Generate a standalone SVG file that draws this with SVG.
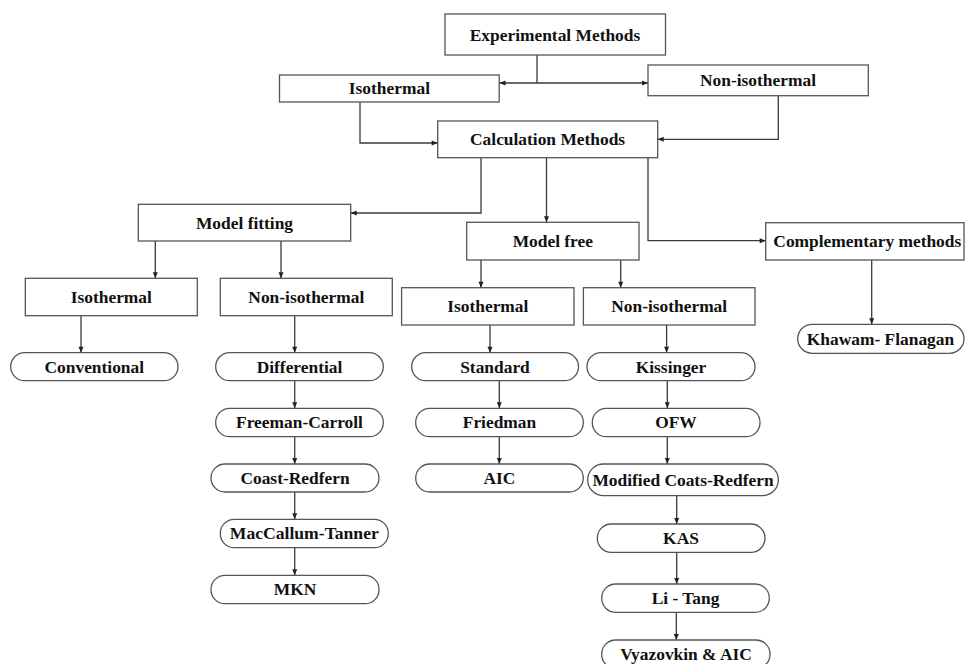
<svg xmlns="http://www.w3.org/2000/svg" width="965" height="664" viewBox="0 0 965 664">
<defs>
<style>
.b{fill:#fff;stroke:#555;stroke-width:1.3}
.t{font-family:"Liberation Serif","Times New Roman",serif;font-weight:bold;font-size:17.4px;fill:#111;text-anchor:middle}
.c{fill:none;stroke:#3a3a3a;stroke-width:1.3;marker-end:url(#ah)}
.n{fill:none;stroke:#3a3a3a;stroke-width:1.3}
</style>
<marker id="ah" markerUnits="userSpaceOnUse" markerWidth="8" markerHeight="8" viewBox="0 0 8 8" refX="7" refY="4" orient="auto">
<path d="M1,1.5 L7,4 L1,6.5 Z" fill="#222"/>
</marker>
</defs>
<rect width="965" height="664" fill="#fff"/>
<g id="connectors">
<path class="n" d="M537,55 V83"/>
<path class="c" d="M537,83 H499.5"/>
<path class="c" d="M537,83 H648"/>
<path class="c" d="M360,102 V143 H437.7"/>
<path class="c" d="M778.3,95.7 V139.3 H657.7"/>
<path class="c" d="M481,157.7 V213 H350.7"/>
<path class="c" d="M546.5,157.7 V222.3"/>
<path class="c" d="M648,157.7 V240.7 H765.7"/>
<path class="c" d="M155.3,241 V278.3"/>
<path class="c" d="M281,241 V278.3"/>
<path class="c" d="M81,315.7 V352.7"/>
<path class="c" d="M294.7,315.7 V352.7"/>
<path class="c" d="M294.7,380.7 V408.3"/>
<path class="c" d="M294.7,436.7 V464"/>
<path class="c" d="M294.7,492 V519.3"/>
<path class="c" d="M294.7,547.7 V575.3"/>
<path class="c" d="M481,260 V287.7"/>
<path class="c" d="M620.7,260 V287.7"/>
<path class="c" d="M490,325 V352.7"/>
<path class="c" d="M499.3,380.7 V408.3"/>
<path class="c" d="M499.3,436.7 V464"/>
<path class="c" d="M666.6,325 V352.7"/>
<path class="c" d="M667.3,380.7 V408.3"/>
<path class="c" d="M667.3,436.7 V464"/>
<path class="c" d="M676.7,495.7 V524"/>
<path class="c" d="M676.7,552.3 V584"/>
<path class="c" d="M676.3,612.3 V640"/>
<path class="c" d="M871.7,260 V324.3"/>
</g>
<g id="experimental"><rect class="b" x="445" y="14" width="220.5" height="41"/><text class="t" x="555" y="40.5">Experimental Methods</text></g>
<g id="isothermal-top"><rect class="b" x="279.5" y="75" width="219.7" height="27"/><text class="t" x="389.4" y="94.3">Isothermal</text></g>
<g id="nonisothermal-top"><rect class="b" x="648" y="65" width="220.3" height="30.7" /><text class="t" x="758" y="86.2">Non-isothermal</text></g>
<g id="calculation"><rect class="b" x="437.7" y="121" width="220" height="36.7"/><text class="t" x="547.6" y="145">Calculation Methods</text></g>
<g id="model-fitting"><rect class="b" x="138.3" y="204.3" width="212.4" height="36.7"/><text class="t" x="244.5" y="228.5">Model fitting</text></g>
<g id="model-free"><rect class="b" x="466.7" y="222.3" width="172.3" height="37.7"/><text class="t" x="552.8" y="247">Model free</text></g>
<g id="complementary"><rect class="b" x="765.7" y="222.7" width="198.3" height="37.3"/><text class="t" x="867.3" y="247">Complementary methods</text></g>
<g id="iso-fitting"><rect class="b" x="25.3" y="278.3" width="172" height="37.4"/><text class="t" x="111.3" y="302.8">Isothermal</text></g>
<g id="noniso-fitting"><rect class="b" x="220.3" y="278.3" width="172" height="37.4"/><text class="t" x="306.3" y="302.8">Non-isothermal</text></g>
<g id="iso-free"><rect class="b" x="401.6" y="287.7" width="172.4" height="37.3"/><text class="t" x="487.8" y="312.2">Isothermal</text></g>
<g id="noniso-free"><rect class="b" x="583.4" y="287.7" width="171.6" height="37.3"/><text class="t" x="669.2" y="312.2">Non-isothermal</text></g>
<g id="conventional"><rect class="b" x="10.7" y="352.7" width="167.3" height="28" rx="14"/><text class="t" x="94.3" y="372.5">Conventional</text></g>
<g id="differential"><rect class="b" x="215.7" y="352.7" width="167.6" height="28" rx="14"/><text class="t" x="299.5" y="372.5">Differential</text></g>
<g id="freeman-carroll"><rect class="b" x="215.7" y="408.3" width="167.6" height="28.4" rx="14"/><text class="t" x="299.5" y="428.3">Freeman-Carroll</text></g>
<g id="coast-redfern"><rect class="b" x="211" y="464" width="168" height="28" rx="14"/><text class="t" x="295" y="483.8">Coast-Redfern</text></g>
<g id="maccallum-tanner"><rect class="b" x="220.3" y="519.3" width="168" height="28.4" rx="14"/><text class="t" x="304.3" y="539.3" textLength="149" lengthAdjust="spacingAndGlyphs">MacCallum-Tanner</text></g>
<g id="mkn"><rect class="b" x="211" y="575.3" width="168" height="28.4" rx="14"/><text class="t" x="295" y="595.3">MKN</text></g>
<g id="standard"><rect class="b" x="411.7" y="352.7" width="166.8" height="28" rx="14"/><text class="t" x="495" y="372.5">Standard</text></g>
<g id="friedman"><rect class="b" x="415.7" y="408.3" width="167.6" height="28.4" rx="14"/><text class="t" x="499.5" y="428.3">Friedman</text></g>
<g id="aic"><rect class="b" x="415.7" y="464" width="167.6" height="28" rx="14"/><text class="t" x="499.5" y="483.8">AIC</text></g>
<g id="kissinger"><rect class="b" x="587" y="352.7" width="168" height="28" rx="14"/><text class="t" x="671" y="372.5">Kissinger</text></g>
<g id="ofw"><rect class="b" x="592.3" y="408.3" width="167.7" height="28.4" rx="14"/><text class="t" x="676" y="428.3">OFW</text></g>
<g id="modified-coats-redfern"><rect class="b" x="587.7" y="464" width="190.6" height="31.7" rx="15.8"/><text class="t" x="683" y="485.6">Modified Coats-Redfern</text></g>
<g id="kas"><rect class="b" x="597.3" y="524" width="167.7" height="28.3" rx="14"/><text class="t" x="681" y="544">KAS</text></g>
<g id="li-tang"><rect class="b" x="601.7" y="584" width="167.6" height="28.3" rx="14"/><text class="t" x="685.5" y="604">Li - Tang</text></g>
<g id="vyazovkin-aic"><rect class="b" x="601.7" y="640" width="168.3" height="28.4" rx="14"/><text class="t" x="686" y="660">Vyazovkin &amp; AIC</text></g>
<g id="khawam-flanagan"><rect class="b" x="797.7" y="324.3" width="166.3" height="29" rx="14.5"/><text class="t" x="880.5" y="344.6">Khawam- Flanagan</text></g>
</svg>
